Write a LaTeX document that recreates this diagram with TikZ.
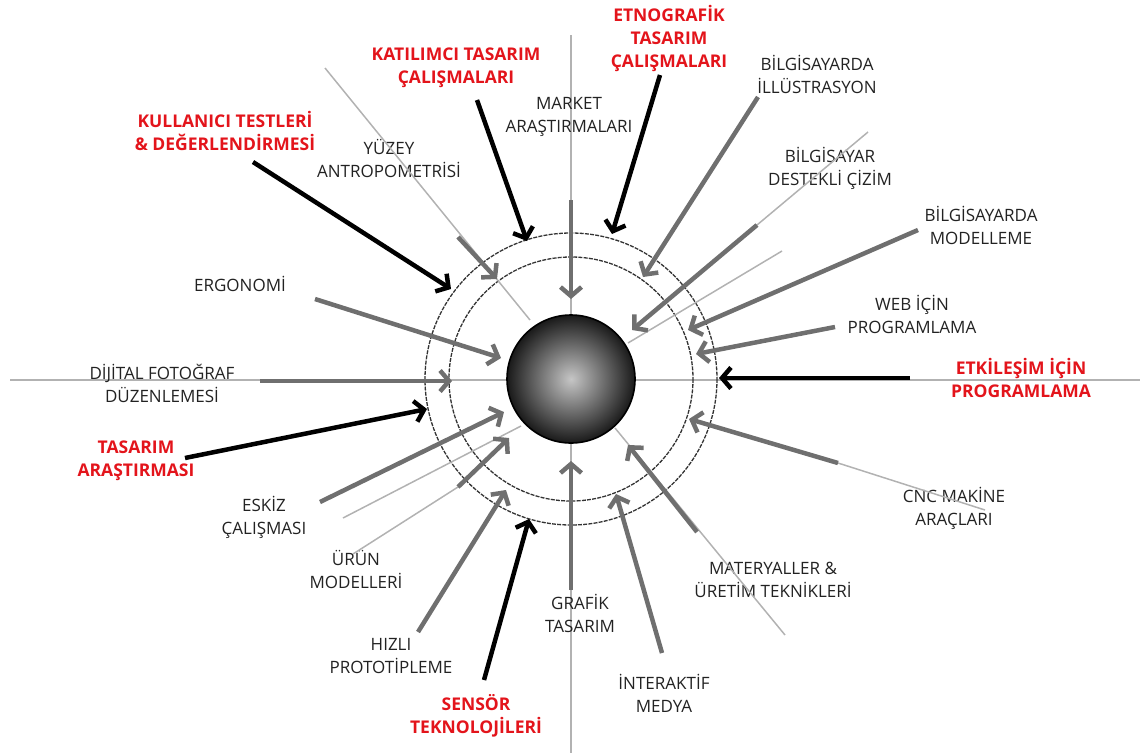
\documentclass[tikz,border=0pt]{standalone}
\usepackage{fontspec}
\setmainfont{Open Sans}
\usetikzlibrary{arrows.meta}
\definecolor{colorFeed}{HTML}{6F6F6F}
\definecolor{colorTrace}{HTML}{B2B2B2}
\definecolor{colorHot}{HTML}{E3141B}
\definecolor{colorText}{HTML}{222222}

\begin{document}
\begin{tikzpicture}[x=1pt,y=-1pt,
    lbl/.style={align=center, text=colorText, inner sep=0pt, font=\fontsize{17}{23}\selectfont},
    hot/.style={align=center, text=colorHot, inner sep=0pt, font=\bfseries\fontsize{17.5}{23}\selectfont},
    feed/.style={draw=colorFeed, line width=4.5pt, -{Straight Barb[length=9pt,width=21pt]}},
    key/.style={draw=black, line width=4.5pt, -{Straight Barb[length=9pt,width=21pt]}},
    trace/.style={draw=colorTrace, line width=1.5pt},
    ring/.style={draw=black!80, line width=1.3pt, dash pattern=on 4pt off 1.2pt}]
        \useasboundingbox (0,0) rectangle (1140,753);

        % axes
        \coordinate (axN) at (571,35);
        \coordinate (axS) at (571,753);
        \coordinate (axW) at (10,380);
        \coordinate (axE) at (1140,380);
        \draw[trace] (axN) -- (axS);
        \draw[trace] (axW) -- (axE);

        % rings round the hub
        \coordinate (mid) at (571,379);
        \draw[ring] (mid) circle (146);
        \draw[ring] (mid) circle (122);

        % labels
        \node[hot] (katilimci) at (456,68) {KATILIMCI TASARIM\\ÇALIŞMALARI};
        \node[hot] (etnografik) at (669,39) {ETNOGRAFİK\\TASARIM\\ÇALIŞMALARI};
        \node[hot] (kullanici) at (225,131) {KULLANICI TESTLERİ\\\& DEĞERLENDİRMESİ};
        \node[lbl] (market) at (569,117) {MARKET\\ARAŞTIRMALARI};
        \node[lbl] (yuzey) at (389,158) {YÜZEY\\ANTROPOMETRİSİ};
        \node[lbl] (illustrasyon) at (817,74) {BİLGİSAYARDA\\İLLÜSTRASYON};
        \node[lbl] (cizim) at (830,168) {BİLGİSAYAR\\DESTEKLİ ÇİZİM};
        \node[lbl] (modelleme) at (981,225) {BİLGİSAYARDA\\MODELLEME};
        \node[lbl] (web) at (912,314) {WEB İÇİN\\PROGRAMLAMA};
        \node[hot] (etkilesim) at (1021,378) {ETKİLEŞİM İÇİN\\PROGRAMLAMA};
        \node[lbl] (ergonomi) at (240,284) {ERGONOMİ};
        \node[lbl] (dijital) at (162,383) {DİJİTAL FOTOĞRAF\\DÜZENLEMESİ};
        \node[hot] (arastirma) at (136,461) {TASARIM\\ARAŞTIRMASI};
        \node[lbl] (eskiz) at (264,517) {ESKİZ\\ÇALIŞMASI};
        \node[lbl] (urun) at (356,569) {ÜRÜN\\MODELLERİ};
        \node[lbl] (hizli) at (391,656) {HIZLI\\PROTOTİPLEME};
        \node[hot] (sensor) at (476,716) {SENSÖR\\TEKNOLOJİLERİ};
        \node[lbl] (grafik) at (580,613) {GRAFİK\\TASARIM};
        \node[lbl] (medya) at (664,693) {İNTERAKTİF\\MEDYA};
        \node[lbl] (materyal) at (773,580) {MATERYALLER \&\\ÜRETİM TEKNİKLERİ};
        \node[lbl] (cnc) at (954,508) {CNC MAKİNE\\ARAÇLARI};

        % arrow ends
        \coordinate (market-s) at (571,200);   \coordinate (market-t) at (571,299);
        \coordinate (yuzey-o) at (325,68);     \coordinate (yuzey-e) at (530,320);
        \coordinate (yuzey-s) at (458,237);    \coordinate (yuzey-t) at (497,279);
        \coordinate (ergonomi-s) at (315,299); \coordinate (ergonomi-t) at (501,358);
        \coordinate (dijital-s) at (260,381);  \coordinate (dijital-t) at (452,381);
        \coordinate (eskiz-s) at (320,502);    \coordinate (eskiz-t) at (504,412);
        \coordinate (eskiz-o) at (343,518);    \coordinate (eskiz-e) at (521,426);
        \coordinate (urun-o) at (353,554);     \coordinate (urun-s) at (458,487);
        \coordinate (urun-t) at (509,438);
        \coordinate (hizli-s) at (418,632);    \coordinate (hizli-t) at (506,490);
        \coordinate (grafik-s) at (571,590);   \coordinate (grafik-t) at (571,461);
        \coordinate (medya-s) at (662,653);    \coordinate (medya-t) at (616,494);
        \coordinate (materyal-o) at (785,635); \coordinate (materyal-e) at (615,428);
        \coordinate (materyal-s) at (697,532); \coordinate (materyal-t) at (628,445);
        \coordinate (cnc-o) at (985,510);      \coordinate (cnc-s) at (838,463);
        \coordinate (cnc-t) at (689,419);
        \coordinate (web-s) at (835,327);      \coordinate (web-t) at (696,354);
        \coordinate (modelleme-s) at (918,230); \coordinate (modelleme-t) at (688,330);
        \coordinate (cizim-o) at (868,132);    \coordinate (cizim-s) at (757,225);
        \coordinate (cizim-t) at (632,330);
        \coordinate (cizim-p) at (782,251);    \coordinate (cizim-q) at (628,343);
        \coordinate (illustrasyon-s) at (758,97); \coordinate (illustrasyon-t) at (643,277);
        \coordinate (katilimci-s) at (477,100); \coordinate (katilimci-t) at (527,241);
        \coordinate (etnografik-s) at (660,75); \coordinate (etnografik-t) at (612,234);
        \coordinate (kullanici-s) at (253,162); \coordinate (kullanici-t) at (451,289);
        \coordinate (etkilesim-s) at (910,378); \coordinate (etkilesim-t) at (719,378);
        \coordinate (arastirma-s) at (185,458); \coordinate (arastirma-t) at (427,409);
        \coordinate (sensor-s) at (484,680);   \coordinate (sensor-t) at (529,519);

        % thin traces
        \draw[trace] (yuzey-o) -- (yuzey-e);
        \draw[trace] (eskiz-o) -- (eskiz-e);
        \draw[trace] (urun-o) -- (urun-s);
        \draw[trace] (materyal-o) -- (materyal-e);
        \draw[trace] (cnc-o) -- (cnc-s);
        \draw[trace] (cizim-o) -- (cizim-s);
        \draw[trace] (cizim-p) -- (cizim-q);

        % grey arrows
        \draw[feed] (market-s) -- (market-t);
        \draw[feed] (yuzey-s) -- (yuzey-t);
        \draw[feed] (ergonomi-s) -- (ergonomi-t);
        \draw[feed] (dijital-s) -- (dijital-t);
        \draw[feed] (eskiz-s) -- (eskiz-t);
        \draw[feed] (urun-s) -- (urun-t);
        \draw[feed] (hizli-s) -- (hizli-t);
        \draw[feed] (grafik-s) -- (grafik-t);
        \draw[feed] (medya-s) -- (medya-t);
        \draw[feed] (materyal-s) -- (materyal-t);
        \draw[feed] (cnc-s) -- (cnc-t);
        \draw[feed] (web-s) -- (web-t);
        \draw[feed] (modelleme-s) -- (modelleme-t);
        \draw[feed] (cizim-s) -- (cizim-t);
        \draw[feed] (illustrasyon-s) -- (illustrasyon-t);

        % black arrows
        \draw[key] (katilimci-s) -- (katilimci-t);
        \draw[key] (etnografik-s) -- (etnografik-t);
        \draw[key] (kullanici-s) -- (kullanici-t);
        \draw[key] (etkilesim-s) -- (etkilesim-t);
        \draw[key] (arastirma-s) -- (arastirma-t);
        \draw[key] (sensor-s) -- (sensor-t);

        % hub
        \node[circle, minimum size=128pt, inner sep=0pt, draw=black, line width=1.6pt,
              inner color=gray!45, outer color=black!90] (hub) at (mid) {};
\end{tikzpicture}
\end{document}
